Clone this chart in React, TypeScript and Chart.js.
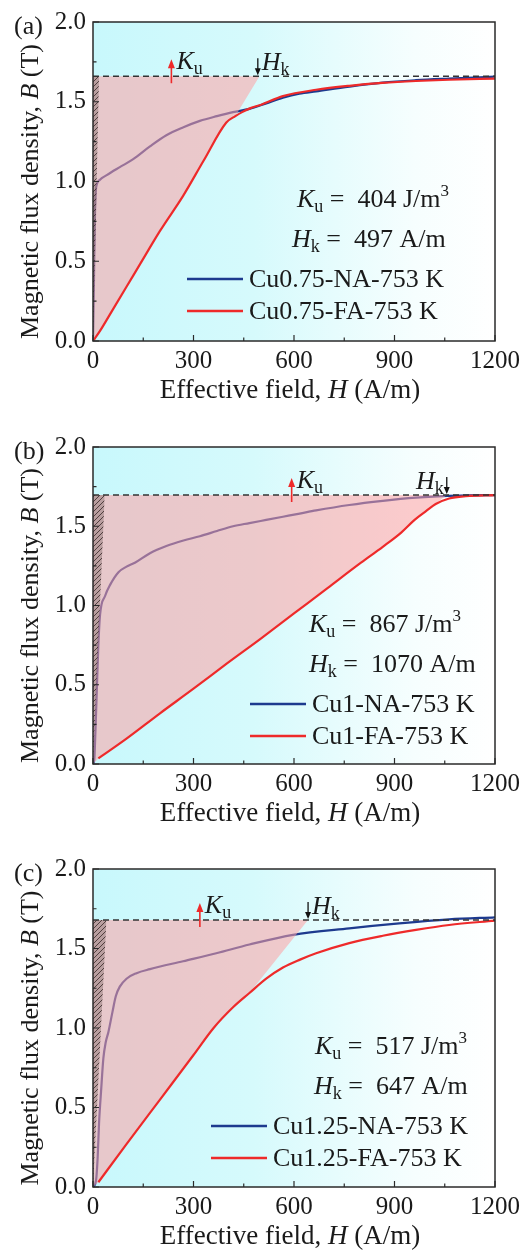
import React, { useEffect, useRef } from "react";
import { Chart, registerables } from "chart.js";
Chart.register(...registerables);

const FONT = '"Liberation Serif", "Times New Roman", serif';

// ---------- axis ticks ----------
const xTickValues = [0, 300, 600, 900, 1200];
const yTickValues = [0, 0.5, 1.0, 1.5, 2.0];
const xMinorValues = [150, 450, 750, 1050];
const yMinorValues = [0.25, 0.75, 1.25, 1.75];

// ---------- panel (a) ----------
const hNA_a = [0, 2, 4, 6, 8, 11, 20, 41, 80, 120, 170, 219, 270, 319, 370, 418, 467, 517, 567, 616, 666, 765, 864, 964, 1063, 1200];
const bNA_a = [0, 0.25, 0.55, 0.8, 0.93, 0.98, 1.01, 1.04, 1.09, 1.14, 1.22, 1.29, 1.34, 1.38, 1.41, 1.435, 1.455, 1.49, 1.525, 1.55, 1.565, 1.595, 1.62, 1.635, 1.645, 1.657];
const hFA_a = [0, 20, 60, 100, 140, 200, 269, 330, 398, 425, 445, 470, 500, 567, 666, 765, 864, 964, 1063, 1200];
const bFA_a = [0, 0.06, 0.2, 0.34, 0.48, 0.69, 0.91, 1.13, 1.37, 1.41, 1.435, 1.46, 1.48, 1.535, 1.575, 1.6, 1.618, 1.63, 1.638, 1.645];
const hPink_a = [0, 20, 60, 100, 140, 200, 269, 330, 398, 425, 497];
const bPink_a = [0, 0.06, 0.2, 0.34, 0.48, 0.69, 0.91, 1.13, 1.37, 1.41, 1.66];
const hHatch_a = [0, 18];
const bHatch_a = [0, 1.66];
const bSat_a = 1.66;

// ---------- panel (b) ----------
const hNA_b = [0, 4, 6, 11, 16, 21, 36, 51, 76, 100, 125, 170, 219, 270, 319, 370, 418, 467, 517, 567, 617, 666, 765, 865, 964, 1043, 1120, 1200];
const bNA_b = [0, 0.03, 0.13, 0.44, 0.75, 0.94, 1.06, 1.13, 1.21, 1.245, 1.27, 1.33, 1.375, 1.41, 1.437, 1.47, 1.5, 1.52, 1.54, 1.56, 1.58, 1.6, 1.634, 1.66, 1.68, 1.69, 1.695, 1.697];
const hFA_b = [16, 100, 200, 300, 400, 500, 600, 700, 800, 865, 920, 960, 994, 1023, 1063, 1113, 1200];
const bFA_b = [0.035, 0.16, 0.32, 0.475, 0.635, 0.79, 0.95, 1.11, 1.27, 1.37, 1.46, 1.54, 1.595, 1.64, 1.675, 1.69, 1.697];
const hPink_b = [0, 16, 100, 200, 300, 400, 500, 600, 700, 800, 865, 920, 960, 994, 1056];
const bPink_b = [0, 0.035, 0.16, 0.32, 0.475, 0.635, 0.79, 0.95, 1.11, 1.27, 1.37, 1.46, 1.54, 1.595, 1.697];
const hHatch_b = [0, 35];
const bHatch_b = [0, 1.697];
const bSat_b = 1.697;

// ---------- panel (c) ----------
const hNA_c = [0, 9, 14, 18, 24, 31, 38, 46, 58, 68, 80, 100, 130, 170, 269, 368, 467, 597, 765, 914, 1063, 1200];
const bNA_c = [0, 0.04, 0.19, 0.4, 0.6, 0.81, 0.91, 0.975, 1.1, 1.2, 1.26, 1.31, 1.345, 1.37, 1.42, 1.47, 1.525, 1.586, 1.627, 1.658, 1.683, 1.696];
const hFA_c = [16, 100, 200, 300, 360, 418, 467, 517, 567, 618, 666, 765, 865, 964, 1063, 1200];
const bFA_c = [0.03, 0.27, 0.55, 0.83, 1.0, 1.13, 1.22, 1.31, 1.38, 1.43, 1.47, 1.534, 1.58, 1.617, 1.648, 1.675];
const hPink_c = [0, 16, 100, 200, 300, 360, 418, 467, 642];
const bPink_c = [0, 0.03, 0.27, 0.55, 0.83, 1.0, 1.13, 1.22, 1.68];
const hHatch_c = [0, 40];
const bHatch_c = [0, 1.68];
const bSat_c = 1.68;

// ---------- labels ----------
const panelLetters = ["(a)", "(b)", "(c)"];
const naLabels = ["Cu0.75-NA-753 K", "Cu1-NA-753 K", "Cu1.25-NA-753 K"];
const faLabels = ["Cu0.75-FA-753 K", "Cu1-FA-753 K", "Cu1.25-FA-753 K"];
const kuValues = ["404", "867", "517"];
const hkValues = ["497", "1070", "647"];
const kuArrowH = [234, 593, 319];
const hkArrowH = [492, 1056, 642];

const BLUE = "#1d3a8e";
const RED = "#ee2a2a";
const TXT = "#1a1a1a";

type Part = { t: string; it?: boolean; size: number; dy?: number };

function fontOf(p: Part) {
  return `${p.it ? "italic " : ""}${p.size}px ${FONT}`;
}
function richWidth(ctx: CanvasRenderingContext2D, parts: Part[]) {
  let w = 0;
  for (const p of parts) {
    ctx.font = fontOf(p);
    w += ctx.measureText(p.t).width;
  }
  return w;
}
function drawRich(ctx: CanvasRenderingContext2D, x: number, y: number, parts: Part[]) {
  ctx.textAlign = "left";
  ctx.textBaseline = "alphabetic";
  let cx = x;
  for (const p of parts) {
    ctx.font = fontOf(p);
    ctx.fillText(p.t, cx, y + (p.dy || 0));
    cx += ctx.measureText(p.t).width;
  }
}

function toXY(h: number[], b: number[]) {
  return h.map((v, i) => ({ x: v, y: b[i] }));
}

function makeHatch(): CanvasPattern | string {
  const c = document.createElement("canvas");
  c.width = 5;
  c.height = 5;
  const x = c.getContext("2d");
  if (!x) return "rgba(120,100,100,0.5)";
  x.fillStyle = "rgba(140,115,115,0.5)";
  x.fillRect(0, 0, 5, 5);
  x.strokeStyle = "rgba(55,40,40,0.8)";
  x.lineWidth = 1;
  x.beginPath();
  x.moveTo(0, 5);
  x.lineTo(5, 0);
  x.moveTo(-1, 1);
  x.lineTo(1, -1);
  x.moveTo(4, 6);
  x.lineTo(6, 4);
  x.stroke();
  return x.createPattern(c, "repeat") || "rgba(120,100,100,0.5)";
}

type Panel = {
  idx: number;
  top: number;
  height: number;
  bottom: number;
  hNA: number[]; bNA: number[];
  hFA: number[]; bFA: number[];
  hPink: number[]; bPink: number[];
  hHatch: number[]; bHatch: number[];
  bSat: number;
  kuX: number; hkX: number; legendX: number; hkSide: "left" | "right";
};

const panels: Panel[] = [
  { idx: 0, top: 0, height: 420, bottom: 341, hNA: hNA_a, bNA: bNA_a, hFA: hFA_a, bFA: bFA_a, hPink: hPink_a, bPink: bPink_a, hHatch: hHatch_a, bHatch: bHatch_a, bSat: bSat_a, kuX: 297, hkX: 292, legendX: 187, hkSide: "right" },
  { idx: 1, top: 425, height: 420, bottom: 339, hNA: hNA_b, bNA: bNA_b, hFA: hFA_b, bFA: bFA_b, hPink: hPink_b, bPink: bPink_b, hHatch: hHatch_b, bHatch: bHatch_b, bSat: bSat_b, kuX: 309, hkX: 309, legendX: 250, hkSide: "left" },
  { idx: 2, top: 847, height: 405, bottom: 340, hNA: hNA_c, bNA: bNA_c, hFA: hFA_c, bFA: bFA_c, hPink: hPink_c, bPink: bPink_c, hHatch: hHatch_c, bHatch: bHatch_c, bSat: bSat_c, kuX: 315, hkX: 314, legendX: 211, hkSide: "right" },
];

function makeDeco(p: Panel) {
  return {
    id: "deco" + p.idx,
    beforeDatasetsDraw(chart: any) {
      const { ctx, chartArea: ca } = chart;
      const g = ctx.createLinearGradient(ca.left, 0, ca.right, 0);
      g.addColorStop(0, "rgb(200,248,252)");
      g.addColorStop(0.4, "rgb(214,250,252)");
      g.addColorStop(0.8, "rgb(246,254,254)");
      g.addColorStop(1, "rgb(255,255,255)");
      ctx.save();
      ctx.fillStyle = g;
      ctx.fillRect(ca.left, ca.top, ca.right - ca.left, ca.bottom - ca.top);
      ctx.restore();
    },
    afterDatasetsDraw(chart: any) {
      const { ctx, chartArea: ca, scales } = chart;
      const xs = scales.x;
      const ys = scales.y;
      ctx.save();
      // frame
      ctx.strokeStyle = "#2a2a2a";
      ctx.lineWidth = 1.5;
      ctx.strokeRect(ca.left, ca.top, ca.right - ca.left, ca.bottom - ca.top);
      // inward ticks
      ctx.lineWidth = 1.2;
      ctx.beginPath();
      for (const v of xTickValues) {
        const px = xs.getPixelForValue(v);
        ctx.moveTo(px, ca.bottom);
        ctx.lineTo(px, ca.bottom - 6);
      }
      for (const v of xMinorValues) {
        const px = xs.getPixelForValue(v);
        ctx.moveTo(px, ca.bottom);
        ctx.lineTo(px, ca.bottom - 3.5);
      }
      for (const v of yTickValues) {
        const py = ys.getPixelForValue(v);
        ctx.moveTo(ca.left, py);
        ctx.lineTo(ca.left + 6, py);
      }
      for (const v of yMinorValues) {
        const py = ys.getPixelForValue(v);
        ctx.moveTo(ca.left, py);
        ctx.lineTo(ca.left + 3.5, py);
      }
      ctx.stroke();

      const yS = ys.getPixelForValue(p.bSat);
      // Ku arrow (red, up)
      const kx = xs.getPixelForValue(kuArrowH[p.idx]);
      ctx.strokeStyle = RED;
      ctx.fillStyle = RED;
      ctx.lineWidth = 1.6;
      ctx.beginPath();
      ctx.moveTo(kx, yS + 7);
      ctx.lineTo(kx, yS - 9);
      ctx.stroke();
      ctx.beginPath();
      ctx.moveTo(kx, yS - 17);
      ctx.lineTo(kx - 3.5, yS - 8);
      ctx.lineTo(kx + 3.5, yS - 8);
      ctx.closePath();
      ctx.fill();
      // Hk arrow (black, down)
      const hx = xs.getPixelForValue(hkArrowH[p.idx]);
      ctx.strokeStyle = "#111";
      ctx.fillStyle = "#111";
      ctx.lineWidth = 1.3;
      ctx.beginPath();
      ctx.moveTo(hx, yS - 18);
      ctx.lineTo(hx, yS - 7);
      ctx.stroke();
      ctx.beginPath();
      ctx.moveTo(hx, yS - 1);
      ctx.lineTo(hx - 3, yS - 8);
      ctx.lineTo(hx + 3, yS - 8);
      ctx.closePath();
      ctx.fill();

      // arrow labels
      ctx.fillStyle = TXT;
      const kuLab: Part[] = [{ t: "K", it: true, size: 26 }, { t: "u", size: 18, dy: 5 }];
      drawRich(ctx, kx + 5, yS - 7, kuLab);
      const hkLab: Part[] = [{ t: "H", it: true, size: 26 }, { t: "k", size: 18, dy: 5 }];
      const hw = richWidth(ctx, hkLab);
      drawRich(ctx, p.hkSide === "right" ? hx + 4 : hx - 3 - hw, yS - 6, hkLab);

      // Ku / Hk values
      drawRich(ctx, p.kuX, ca.top + 185, [
        { t: "K", it: true, size: 26 },
        { t: "u", size: 18, dy: 5 },
        { t: " =  " + kuValues[p.idx] + " J/m", size: 26 },
        { t: "3", size: 17, dy: -11 },
      ]);
      drawRich(ctx, p.hkX, ca.top + 225, [
        { t: "H", it: true, size: 26 },
        { t: "k", size: 18, dy: 5 },
        { t: " =  " + hkValues[p.idx] + " A/m", size: 26 },
      ]);

      // legend
      const items = [
        { label: naLabels[p.idx], color: BLUE, y: ca.top + 257 },
        { label: faLabels[p.idx], color: RED, y: ca.top + 289 },
      ];
      for (const it of items) {
        ctx.strokeStyle = it.color;
        ctx.lineWidth = 2.4;
        ctx.beginPath();
        ctx.moveTo(p.legendX, it.y);
        ctx.lineTo(p.legendX + 56, it.y);
        ctx.stroke();
        ctx.fillStyle = TXT;
        ctx.font = `26px ${FONT}`;
        ctx.textAlign = "left";
        ctx.textBaseline = "middle";
        ctx.fillText(it.label, p.legendX + 62, it.y + 1);
      }
      ctx.restore();
    },
    afterDraw(chart: any) {
      const { ctx, chartArea: ca } = chart;
      ctx.save();
      ctx.fillStyle = TXT;
      // x title
      const xt: Part[] = [
        { t: "Effective field, ", size: 27 },
        { t: "H", it: true, size: 27 },
        { t: " (A/m)", size: 27 },
      ];
      const xw = richWidth(ctx, xt);
      drawRich(ctx, 290 - xw / 2, ca.bottom + 57, xt);
      // y title
      const yt: Part[] = [
        { t: "Magnetic flux density, ", size: 26 },
        { t: "B", it: true, size: 26 },
        { t: " (T)", size: 26 },
      ];
      const yw = richWidth(ctx, yt);
      ctx.translate(29, (ca.top + ca.bottom) / 2 + 10);
      ctx.rotate(-Math.PI / 2);
      drawRich(ctx, -yw / 2, 9, yt);
      ctx.restore();
      // panel letter
      ctx.save();
      ctx.fillStyle = TXT;
      ctx.font = `26px ${FONT}`;
      ctx.textAlign = "left";
      ctx.textBaseline = "middle";
      ctx.fillText(panelLetters[p.idx], 14, ca.top + 5);
      ctx.restore();
    },
  };
}

function PanelChart({ p }: { p: Panel }) {
  const ref = useRef<HTMLCanvasElement | null>(null);
  useEffect(() => {
    if (!ref.current) return;
    const hatch = makeHatch();
    const chart = new Chart(ref.current, {
      type: "line",
      data: {
        datasets: [
          {
            label: "Bs",
            data: toXY([0, 1200], [p.bSat, p.bSat]),
            borderColor: "#333",
            borderWidth: 1.5,
            borderDash: [6, 4],
            pointRadius: 0,
            fill: false,
            order: 0,
          },
          {
            label: faLabels[p.idx],
            data: toXY(p.hFA, p.bFA),
            borderColor: RED,
            borderWidth: 2.2,
            pointRadius: 0,
            cubicInterpolationMode: "monotone",
            fill: false,
            order: 1,
          },
          {
            label: "hatch",
            data: toXY(p.hHatch, p.bHatch),
            borderColor: "rgba(0,0,0,0)",
            borderWidth: 0,
            backgroundColor: hatch as any,
            pointRadius: 0,
            fill: { value: p.bSat },
            order: 2,
          },
          {
            label: "area",
            data: toXY(p.hPink, p.bPink),
            borderColor: "rgba(0,0,0,0)",
            borderWidth: 0,
            backgroundColor: "rgba(255,160,162,0.55)",
            pointRadius: 0,
            fill: { value: p.bSat },
            order: 3,
          },
          {
            label: naLabels[p.idx],
            data: toXY(p.hNA, p.bNA),
            borderColor: BLUE,
            borderWidth: 2.2,
            pointRadius: 0,
            cubicInterpolationMode: "monotone",
            fill: false,
            order: 4,
          },
        ] as any,
      },
      options: {
        responsive: false,
        animation: false,
        events: [],
        layout: { padding: { top: 18, right: 36, left: 0, bottom: 0 } },
        plugins: { legend: { display: false }, tooltip: { enabled: false } },
        scales: {
          x: {
            type: "linear",
            min: 0,
            max: 1200,
            afterBuildTicks: (s: any) => {
              s.ticks = xTickValues.map((v) => ({ value: v }));
            },
            afterFit: (s: any) => {
              s.height = p.height - p.bottom;
            },
            ticks: {
              font: { family: FONT, size: 25 },
              color: TXT,
              padding: 5,
              maxRotation: 0,
              autoSkip: false,
              callback: (v: any) => String(v),
            },
            grid: { display: false, drawTicks: false },
            border: { display: false },
          },
          y: {
            type: "linear",
            min: 0,
            max: 2,
            afterBuildTicks: (s: any) => {
              s.ticks = yTickValues.map((v) => ({ value: v }));
            },
            afterFit: (s: any) => {
              s.width = 93;
            },
            ticks: {
              font: { family: FONT, size: 25 },
              color: TXT,
              padding: 7,
              autoSkip: false,
              callback: (v: any) => Number(v).toFixed(1),
            },
            grid: { display: false, drawTicks: false },
            border: { display: false },
          },
        },
      } as any,
      plugins: [makeDeco(p)],
    });
    return () => chart.destroy();
  }, [p]);
  return (
    <canvas
      ref={ref}
      width={531}
      height={p.height}
      style={{ position: "absolute", left: 0, top: p.top, width: 531, height: p.height, display: "block" }}
    />
  );
}

export default function App() {
  return (
    <div style={{ position: "absolute", left: 0, top: 0, width: 531, height: 1252, background: "#fff", overflow: "hidden" }}>
      {panels.map((p) => (
        <PanelChart key={p.idx} p={p} />
      ))}
    </div>
  );
}
